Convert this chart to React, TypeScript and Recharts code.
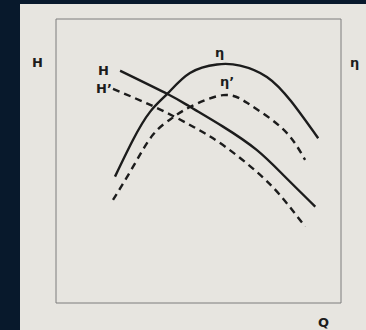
import { LineChart, Line, XAxis, YAxis, ReferenceArea } from "recharts";

// Q positions (0-100 across the box) and curve values (0-100 up the box)
const hQ = [22.5, 39.3, 47, 58.6, 70.4, 80, 91];
const hValues = [81.8, 73.5, 69.1, 62.1, 53.9, 44.8, 33.9];

const hPrimeQ = [20, 34.7, 47, 58.6, 70.4, 78.6, 87.4];
const hPrimeValues = [75.4, 69, 62.7, 55.6, 46.2, 38, 26.9];

const etaQ = [20.7, 27, 33, 39.3, 47, 56.5, 64.6, 74, 82.5, 92];
const etaValues = [44.5, 57.4, 67.3, 73.9, 81, 84, 83.6, 79.6, 71, 58];

const etaPrimeQ = [20, 27, 34, 40.7, 47, 58.6, 67, 75.1, 82.1, 87.4];
const etaPrimeValues = [36.3, 47.9, 59.2, 65.1, 69, 73.2, 70.5, 65, 58.6, 50.4];

const toPoints = (qs: number[], vs: number[]) => qs.map((q, i) => ({ q, v: vs[i] }));

const INK = "#1c1c1c";

const labelStyle: React.CSSProperties = {
  position: "absolute",
  fontFamily: "'DejaVu Sans', sans-serif",
  fontWeight: 700,
  fontSize: 13,
  color: INK,
  lineHeight: 1,
};

export default function App() {
  return (
    <div style={{ position: "fixed", left: 0, top: 0, width: 366, height: 330, background: "#08192c", overflow: "hidden" }}>
      <div style={{ position: "absolute", left: 20, top: 4, right: 0, bottom: 0, background: "#e7e5e0" }} />
      <div style={{ position: "absolute", left: 0, top: 0 }}>
        <LineChart width={366} height={330} margin={{ top: 19, right: 25, bottom: 27, left: 56 }}>
          <XAxis type="number" dataKey="q" domain={[0, 100]} hide />
          <YAxis type="number" dataKey="v" domain={[0, 100]} hide />
          <ReferenceArea x1={0} x2={100} y1={0} y2={100} fill="none" stroke="#7c7c7c" strokeWidth={1} ifOverflow="visible" />
          <Line data={toPoints(hQ, hValues)} dataKey="v" type="natural" stroke={INK} strokeWidth={2.4} dot={false} isAnimationActive={false} />
          <Line data={toPoints(hPrimeQ, hPrimeValues)} dataKey="v" type="natural" stroke={INK} strokeWidth={2.4} strokeDasharray="7 5" dot={false} isAnimationActive={false} />
          <Line data={toPoints(etaQ, etaValues)} dataKey="v" type="natural" stroke={INK} strokeWidth={2.4} dot={false} isAnimationActive={false} />
          <Line data={toPoints(etaPrimeQ, etaPrimeValues)} dataKey="v" type="natural" stroke={INK} strokeWidth={2.4} strokeDasharray="7 5" dot={false} isAnimationActive={false} />
        </LineChart>
      </div>
      <span style={{ ...labelStyle, left: 32, top: 56 }}>H</span>
      <span style={{ ...labelStyle, left: 350, top: 56 }}>η</span>
      <span style={{ ...labelStyle, left: 318, top: 316 }}>Q</span>
      <span style={{ ...labelStyle, left: 98, top: 64 }}>H</span>
      <span style={{ ...labelStyle, left: 96, top: 82 }}>H’</span>
      <span style={{ ...labelStyle, left: 215, top: 46 }}>η</span>
      <span style={{ ...labelStyle, left: 220, top: 75 }}>η’</span>
    </div>
  );
}
